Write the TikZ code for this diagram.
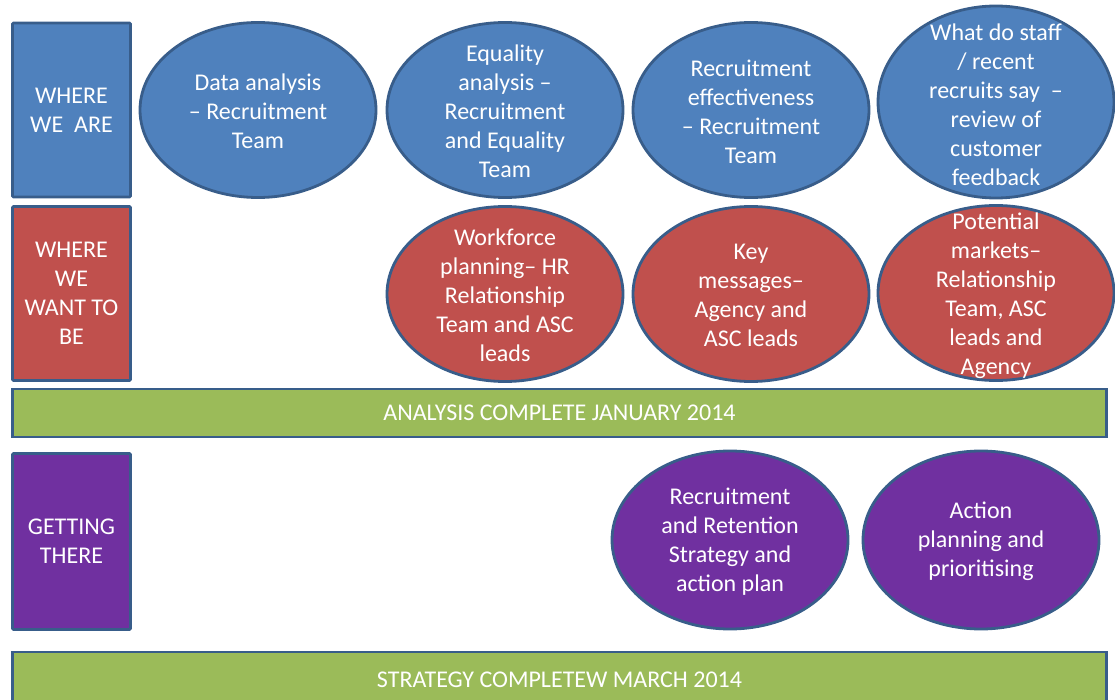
\documentclass[tikz,border=0pt]{standalone}
\usepackage{fontspec}
\setmainfont{Carlito}
\usetikzlibrary{shapes.geometric}

\definecolor{edge}{HTML}{385D8A}
\definecolor{nowblue}{HTML}{4F81BD}
\definecolor{wantred}{HTML}{C0504D}
\definecolor{donegreen}{HTML}{9BBB59}
\definecolor{gopurple}{HTML}{7030A0}

\tikzset{
	stage/.style = {draw = edge, line width = 2.8pt, rounded corners = 1pt, text = white,
		minimum width = 118, minimum height = 174, align = center, inner sep = 0pt},
	milestone/.style = {draw = edge, line width = 2.8pt, fill = donegreen, text = white,
		minimum width = 1094, align = center, inner sep = 0pt},
	oval/.style = {ellipse, draw = edge, line width = 2.8pt, minimum width = 236, minimum height = 175, inner sep = 0pt},
	txt/.style = {text = white, align = center, inner sep = 0pt, yshift = -1.5pt}
}

\begin{document}
\begin{tikzpicture}[x = 1pt, y = -1pt, font = \fontsize{24}{29}\selectfont]
		\useasboundingbox (0,0) rectangle (1115,700);
		% row labels
		\node[stage, fill = nowblue] (now) at (71.5,110) {WHERE\\WE\ \ ARE};
		\node[stage, fill = wantred] (want) at (71.5,293.5) {WHERE\\WE\\WANT TO\\BE};
		\node[stage, fill = gopurple, minimum height = 176] (get) at (71.5,541.5) {GETTING\\THERE};
		% milestones
		\node[milestone, minimum height = 48] (jan) at (559.5,413) {ANALYSIS COMPLETE JANUARY 2014};
		\node[milestone, minimum height = 62] (mar) at (559.5,683) {};
		\node[txt] (martxt) at (559.5,678) {STRATEGY COMPLETEW MARCH 2014};
		% where we are
		\node[oval, fill = nowblue] (data) at (258,110) {};
		\node[txt] at (data) {Data analysis\\– Recruitment\\Team};
		\node[oval, fill = nowblue] (equal) at (505,110) {};
		\node[txt] at (equal) {Equality\\analysis –\\Recruitment\\and Equality\\Team};
		\node[oval, fill = nowblue] (effect) at (751,110) {};
		\node[txt] at (effect) {Recruitment\\effectiveness\\– Recruitment\\Team};
		\node[oval, fill = nowblue, minimum height = 192] (staff) at (996,102) {};
		\node[txt] at (996,103) {What do staff\\/ recent\\recruits say\ \ –\\review of\\customer\\feedback};
		% where we want to be
		\node[oval, fill = wantred] (plan) at (505,294) {};
		\node[txt] at (plan) {Workforce\\planning– HR\\Relationship\\Team and ASC\\leads};
		\node[oval, fill = wantred] (msg) at (751,294) {};
		\node[txt] at (msg) {Key\\messages–\\Agency and\\ASC leads};
		\node[oval, fill = wantred] (market) at (996,293) {};
		\node[txt] at (996,294.5) {Potential\\markets–\\Relationship\\Team, ASC\\leads and\\Agency};
		% getting there
		\node[oval, fill = gopurple, minimum height = 178] (strat) at (730,540) {};
		\node[txt] at (strat) {Recruitment\\and Retention\\Strategy and\\action plan};
		\node[oval, fill = gopurple, minimum height = 178] (action) at (981,540) {};
		\node[txt] at (action) {Action\\planning and\\prioritising};
	\end{tikzpicture}
\end{document}
